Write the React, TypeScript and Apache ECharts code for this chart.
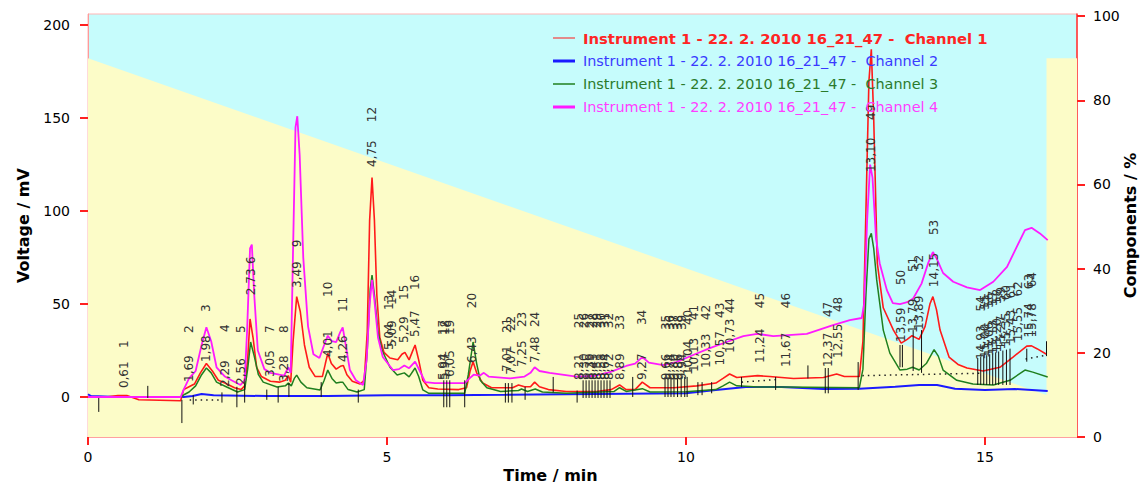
import React, { useEffect, useRef } from "react";
import * as echarts from "echarts";

// ---------- data ----------
const xTicks = [0, 5, 10, 15];
const leftTicks = [0, 50, 100, 150, 200];
const rightTicks = [0, 20, 40, 60, 80, 100];

// gradient composition (% on right axis)
const compTimes = [0, 16.03, 16.03, 16.54];
const compValues = [90, 10, 90, 90];

const channel1: [number, number][] = [
  [0, 0], [0.3, 0], [0.5, 0.8], [0.65, 0.8], [0.85, -1.5], [1.55, -2], [1.6, 4], [1.69, 5.5], [1.78, 7], [1.88, 13], [1.98, 18],
  [2.08, 14], [2.18, 9], [2.29, 7.5], [2.45, 5], [2.56, 4], [2.62, 6], [2.67, 20], [2.71, 42], [2.76, 32], [2.82, 16], [2.9, 11],
  [3.05, 8.5], [3.2, 8], [3.3, 9], [3.35, 11.5], [3.39, 8], [3.43, 30], [3.49, 54], [3.55, 46], [3.62, 28], [3.7, 16], [3.8, 11],
  [3.92, 11], [3.97, 18], [4.01, 23.5], [4.07, 18], [4.15, 15], [4.22, 16.5], [4.27, 17], [4.33, 12], [4.42, 8.5], [4.55, 7],
  [4.62, 9], [4.67, 35], [4.71, 95], [4.75, 118], [4.79, 95], [4.83, 55], [4.88, 32], [4.95, 24], [5.05, 21], [5.18, 20],
  [5.25, 23], [5.3, 24], [5.37, 20], [5.42, 24], [5.47, 28], [5.53, 20], [5.6, 9], [5.7, 5], [5.85, 4.3], [6.2, 4], [6.33, 5],
  [6.39, 14], [6.44, 19], [6.5, 13], [6.6, 7.5], [6.75, 5], [7.1, 5], [7.2, 6.5], [7.3, 5.5], [7.4, 5.5], [7.47, 8], [7.55, 5.5],
  [7.7, 4], [8.0, 3], [8.5, 3], [8.75, 4], [8.89, 6.5], [9.0, 4], [9.15, 4], [9.27, 8], [9.4, 5], [9.8, 5], [10.18, 6], [10.5, 7.5],
  [10.62, 10], [10.73, 12.4], [10.85, 10.5], [11.2, 11.5], [11.4, 11], [11.8, 10], [12.3, 10.5], [12.52, 12.4], [12.65, 11],
  [12.9, 11], [12.96, 30], [13.01, 100], [13.06, 170], [13.1, 187], [13.14, 150], [13.2, 72], [13.3, 48], [13.47, 36], [13.6, 29],
  [13.7, 31], [13.78, 33], [13.9, 31], [14.0, 38], [14.08, 50], [14.13, 54], [14.19, 47], [14.25, 36], [14.4, 21.5], [14.55, 17.5],
  [14.7, 15.6], [14.97, 14], [15.25, 16], [15.47, 21.5], [15.7, 27.4], [15.78, 27.5], [15.87, 26], [16.03, 23],
];

const channel2: [number, number][] = [
  [0, 1.5], [0.05, 0.5], [0.5, 0], [1.6, 0], [1.75, 0.5], [1.9, 1.6], [2.1, 1], [3, 0.5], [4, 0.5], [5, 1], [6, 1], [7, 1.2],
  [8, 1.5], [9, 1.8], [10, 2], [10.5, 3.8], [11, 5.4], [11.6, 5.4], [12.3, 4.3], [12.9, 4.5], [13.5, 5.5], [13.9, 6.5],
  [14.2, 6.5], [14.5, 4.5], [15, 3.8], [15.5, 4.3], [16.05, 3.2],
];

const channel3: [number, number][] = [
  [0, 0], [1.55, 0], [1.62, 1.5], [1.69, 2.7], [1.8, 6], [1.9, 12], [1.98, 15.6], [2.06, 13], [2.15, 8], [2.32, 5.4], [2.5, 2.7],
  [2.62, 4], [2.67, 15], [2.72, 29.6], [2.78, 22], [2.85, 12], [2.93, 8], [3.16, 5.4], [3.3, 6], [3.35, 7.5], [3.4, 6], [3.45, 10],
  [3.49, 11.8], [3.56, 8], [3.66, 5], [3.88, 3.8], [3.95, 9], [4.01, 14.5], [4.08, 10], [4.15, 7.5], [4.22, 8], [4.26, 8],
  [4.35, 4], [4.5, 2.7], [4.62, 4], [4.67, 25], [4.72, 58], [4.75, 65.6], [4.79, 55], [4.85, 35], [4.92, 25], [5.05, 16],
  [5.17, 11.8], [5.29, 13], [5.37, 10.8], [5.47, 15.6], [5.53, 11], [5.6, 3.8], [5.7, 2], [6.3, 2], [6.36, 12], [6.44, 29.6],
  [6.5, 18], [6.56, 9], [6.67, 5], [6.9, 3], [7.2, 3.5], [7.25, 4.3], [7.35, 3], [7.48, 4.3], [7.6, 2.7], [8.0, 2], [8.8, 3],
  [8.89, 5], [9.0, 3], [9.27, 4.5], [9.4, 2.7], [10.0, 2.8], [10.5, 4], [10.62, 6], [10.73, 8], [10.85, 6], [11.2, 5.4],
  [11.6, 5.4], [12.9, 5], [12.96, 15], [13.01, 55], [13.06, 85], [13.1, 88], [13.14, 80], [13.19, 63], [13.3, 36], [13.41, 23.6],
  [13.58, 14.5], [13.7, 15], [13.79, 16], [13.9, 14.5], [14.02, 18], [14.15, 25.5], [14.22, 22], [14.3, 14.5], [14.53, 9],
  [14.8, 7], [15.14, 6.5], [15.42, 9], [15.67, 14.5], [15.8, 13.4], [16.05, 10.8],
];

const channel4: [number, number][] = [
  [0, 0], [1.55, 0], [1.6, 4], [1.69, 10], [1.8, 14], [1.9, 28], [1.98, 37.5], [2.06, 30], [2.15, 16], [2.29, 11], [2.4, 9],
  [2.55, 6.5], [2.62, 9], [2.66, 35], [2.71, 80], [2.74, 82], [2.78, 55], [2.84, 25], [2.95, 15], [3.05, 13], [3.2, 12],
  [3.28, 11.5], [3.35, 16], [3.39, 13], [3.43, 80], [3.47, 145], [3.5, 151], [3.54, 130], [3.6, 75], [3.68, 38], [3.77, 23],
  [3.87, 21], [3.95, 28], [4.01, 33], [4.08, 30], [4.15, 29.5], [4.22, 35], [4.26, 37.5], [4.32, 26], [4.38, 14.5], [4.48, 9],
  [4.6, 6.5], [4.66, 20], [4.71, 50], [4.75, 63], [4.79, 52], [4.85, 32], [4.93, 21.5], [5.1, 14.5], [5.2, 15], [5.29, 17],
  [5.37, 15.5], [5.47, 19], [5.55, 14], [5.64, 8], [5.8, 7.5], [6.3, 7.5], [6.38, 10], [6.45, 12], [6.55, 11.5], [6.62, 13],
  [6.7, 11], [7.06, 10], [7.3, 11], [7.4, 13], [7.47, 16], [7.55, 14], [7.72, 13], [8.17, 11], [8.45, 11.3], [8.73, 13.4],
  [9.0, 16.7], [9.15, 18], [9.27, 21.5], [9.38, 18.5], [9.62, 17.2], [9.84, 18.8], [10.12, 22.6], [10.4, 26.3], [10.68, 29.6],
  [10.96, 32.8], [11.19, 34], [11.46, 32.8], [12.02, 34], [12.46, 38.7], [12.74, 41.4], [12.94, 42.5], [12.98, 50], [13.03, 95],
  [13.08, 125], [13.12, 118], [13.18, 85], [13.24, 72], [13.36, 57.5], [13.46, 50.5], [13.58, 50], [13.7, 51], [13.8, 53],
  [13.94, 61], [14.05, 72], [14.13, 78], [14.2, 74], [14.3, 66.7], [14.47, 62], [14.7, 59], [14.92, 57.5], [15.14, 62],
  [15.37, 70], [15.53, 80.6], [15.67, 89.8], [15.78, 91], [15.92, 88], [16.05, 84.4],
];

// peak annotations: number, retention time, level (mV) of time label foot, level of number label foot
const peakNumbers = Array.from({ length: 64 }, (_, i) => i + 1);
const peakTimes = [
  0.61, 1.69, 1.98, 2.29, 2.56, 2.73, 3.05, 3.28, 3.49, 4.01, 4.26, 4.75, 5.04, 5.09, 5.29, 5.47, 5.94, 5.97, 6.05, 6.43,
  7.01, 7.07, 7.25, 7.48, 8.21, 8.3, 8.39, 8.45, 8.51, 8.58, 8.64, 8.72, 8.89, 9.27, 9.66, 9.74, 9.8, 9.86, 9.94, 10.04,
  10.13, 10.33, 10.57, 10.73, 11.24, 11.67, 12.37, 12.55, 13.1, 13.59, 13.79, 13.89, 14.15, 14.93, 15.0, 15.06, 15.13, 15.2,
  15.27, 15.35, 15.43, 15.55, 15.74, 15.78,
];
const timeLabelLevel = [
  4.8, 8.1, 18.8, 5.4, 6.5, 54.8, 10.8, 8.1, 58.6, 21.5, 18.8, 123.7, 25.3, 26.9, 29, 32.3, 9.1, 9.1, 10.8, 18.3,
  13.4, 12, 16.1, 18.3, 9.1, 9.1, 9.1, 9.1, 9.1, 9.1, 9.1, 9.1, 9.1, 9.1, 9, 9, 9, 9, 9, 11.8,
  13.4, 15.6, 17, 23.7, 18.3, 16.1, 16.1, 21, 121, 29.6, 34.4, 36, 59.1, 20, 21, 22, 23, 24,
  25.5, 27, 28.5, 30, 32, 32,
];
const numberLabelLevel = [
  26.3, 34.4, 45.7, 35, 34.4, 71.5, 34.4, 34.4, 80.6, 53.8, 45.7, 147.8, 46.8, 49.5, 52.2, 57.5, 33.3, 33.3, 33.3, 47.8,
  34.4, 35.5, 37.6, 37.6, 37, 37, 37, 37, 37, 37, 37, 37, 36, 38.7, 36, 36, 36, 36, 36, 38.7,
  41.4, 41.4, 42.5, 45, 47.8, 47.8, 43, 45.7, 149, 60.2, 67.2, 68.3, 87.1, 46, 47, 48, 49, 50,
  51, 52, 53, 54, 58, 59,
];

// integration markers: time, low level, high level (mV)
const markerTimes = [
  0.18, 1.0, 1.57, 1.76, 2.24, 2.49, 2.62, 2.99, 3.18, 3.36, 3.9, 4.52, 5.95, 6.0, 6.05, 6.3, 6.98, 7.03, 7.09, 7.31, 7.78,
  8.18, 8.28, 8.33, 8.38, 8.43, 8.48, 8.53, 8.58, 8.63, 8.68, 8.73, 9.11, 9.65, 9.7, 9.75, 9.8, 9.86, 9.92, 9.98, 10.02,
  10.2, 10.27, 10.43, 10.93, 11.5, 12.04, 12.33, 12.38, 12.88, 13.58, 13.62, 13.8, 13.94, 14.88, 14.93, 14.98, 15.03, 15.08,
  15.13, 15.18, 15.23, 15.3, 15.36, 15.42, 15.7, 16.03,
];
const markerLow = [
  -8, -0.5, -14, -4, -3, -5.5, -3, -1.5, -3, 0, 0, -3, -5.5, -5.5, -5.5, -5.5, -3, -3, -3, -1.5, 2.5,
  -3, -0.5, -0.5, -0.5, -0.5, -0.5, -0.5, -0.5, -0.5, -0.5, -0.5, 0, 0, 0, 0, 0, 0, 0, 0, 0,
  1, 1, 2, 5.4, 3.8, 10, 2, 2, 3.8, 16, 16, 14, 13, 6.5, 6.5, 6.5, 6.5, 6.5,
  6.5, 6.5, 6.5, 6.5, 6.5, 6.5, 19, 22,
];
const markerHigh = [
  -0.5, 6, -1.5, 1, 2.5, 5.5, 7.5, 4, 5.5, 7.5, 8, 4, 9, 9, 9, 9, 7.5, 7.5, 7.5, 5.5, 10.8,
  3.5, 9, 9, 9, 9, 9, 9, 9, 9, 9, 9, 10.8, 10.8, 10.8, 10.8, 10.8, 10.8, 10.8, 10.8, 10.8,
  8, 8, 8, 10.8, 10.8, 17, 15.6, 15.6, 18.8, 28, 28, 36, 36, 21, 21.5, 22, 22.5, 23,
  23.5, 24, 24.5, 25, 25.5, 26, 26, 30,
];

// dotted integration baselines: [t1, v1, t2, v2]
const baselineSegments: [number, number, number, number][] = [
  [1.7, -1.6, 2.25, -1.6],
  [10.93, 8, 11.55, 9.5],
  [12.95, 11.5, 14.95, 12.8],
  [15.68, 20.5, 16.03, 22.5],
];

const seriesNames = [
  "Instrument 1 - 22. 2. 2010 16_21_47 -  Channel 1",
  "Instrument 1 - 22. 2. 2010 16_21_47 -  Channel 2",
  "Instrument 1 - 22. 2. 2010 16_21_47 -  Channel 3",
  "Instrument 1 - 22. 2. 2010 16_21_47 -  Channel 4",
];

// ---------- styles ----------
const FONT = "DejaVu Sans";
const traceColors = ["#ff1a1a", "#1a1aff", "#1f7f1f", "#ff1aff"];
const legendTextColors = ["#ff2424", "#3a3aff", "#2b7a2b", "#ff3cff"];
const legendFonts = [
  `bold 14.8px "${FONT}"`,
  `14.4px "${FONT}"`,
  `14.4px "${FONT}"`,
  `14.4px "${FONT}"`,
];
const traceWidths = [1.6, 2, 1.5, 1.8];
const legendWidths = [1, 3, 1.5, 3];

const fmtTime = (t: number) => t.toFixed(2).replace(".", ",");

export default function App() {
  const ref = useRef<HTMLDivElement>(null);

  useEffect(() => {
    if (!ref.current) return;
    const chart = echarts.init(ref.current, null, { renderer: "svg" });

    const traces = [channel1, channel2, channel3, channel4];

    const legendGraphics: any[] = [];
    seriesNames.forEach((name, i) => {
      const y = 38 + i * 23;
      legendGraphics.push({
        type: "line",
        shape: { x1: 553, y1: y, x2: 575, y2: y },
        style: { stroke: traceColors[i], lineWidth: legendWidths[i] },
        z: 100,
      });
      legendGraphics.push({
        type: "text",
        x: 583,
        y: y,
        style: {
          text: name,
          fill: legendTextColors[i],
          font: legendFonts[i],
          textAlign: "left",
          textVerticalAlign: "middle",
          align: "left",
          verticalAlign: "middle",
        },
        z: 100,
      });
    });

    const option: any = {
      animation: false,
      backgroundColor: "#ffffff",
      textStyle: { fontFamily: FONT },
      grid: {
        left: 88,
        right: 68,
        top: 14,
        bottom: 49,
        containLabel: false,
        outerBoundsMode: "none",
        show: true,
        backgroundColor: "#c6fcfc",
        borderColor: "#ffb4b4",
        borderWidth: 1,
      },
      xAxis: {
        type: "value",
        min: 0,
        max: 16.54,
        name: "Time / min",
        nameLocation: "middle",
        nameGap: 30,
        nameMoveOverlap: false,
        nameTextStyle: { fontSize: 16, fontWeight: "bold", color: "#000", fontFamily: FONT, padding: [0, 64, 0, 0] },
        axisLine: { show: true, onZero: false, lineStyle: { color: "#ffa0a0", width: 1 } },
        axisTick: { show: true, customValues: xTicks, length: 8, lineStyle: { color: "#ff2020", width: 2 } },
        axisLabel: { customValues: xTicks, margin: 13, fontSize: 14, color: "#000", fontFamily: FONT },
        splitLine: { show: false },
      },
      yAxis: [
        {
          type: "value",
          min: -21.5,
          max: 206,
          name: "Voltage / mV",
          nameLocation: "middle",
          nameRotate: 90,
          nameGap: 57,
          nameMoveOverlap: false,
          nameTextStyle: { fontSize: 16, fontWeight: "bold", color: "#000", fontFamily: FONT },
          axisLine: { show: true, onZero: false, lineStyle: { color: "#ff9a9a", width: 1 } },
          axisTick: { show: true, customValues: leftTicks, length: 8, lineStyle: { color: "#ff2020", width: 2 } },
          axisLabel: { customValues: leftTicks, margin: 18, fontSize: 14, color: "#000", fontFamily: FONT },
          splitLine: { show: false },
        },
        {
          type: "value",
          position: "right",
          min: 0,
          max: 100.5,
          name: "Components / %",
          nameLocation: "middle",
          nameRotate: 90,
          nameGap: 45,
          nameMoveOverlap: false,
          nameTextStyle: { fontSize: 16, fontWeight: "bold", color: "#000", fontFamily: FONT },
          axisLine: { show: true, onZero: false, lineStyle: { color: "#ff3030", width: 1.5 } },
          axisTick: { show: true, customValues: rightTicks, length: 8, lineStyle: { color: "#ff2020", width: 2 } },
          axisLabel: { customValues: rightTicks, margin: 16, fontSize: 14, color: "#000", fontFamily: FONT },
          splitLine: { show: false },
        },
      ],
      graphic: legendGraphics,
      series: [
        {
          type: "line",
          name: "composition",
          yAxisIndex: 1,
          data: compTimes.map((t, i) => [t, compValues[i]]),
          showSymbol: false,
          silent: true,
          lineStyle: { width: 0, opacity: 0 },
          areaStyle: { color: "#fcfcc8", opacity: 1 },
          z: 1,
        },
        {
          type: "custom",
          name: "baselines",
          yAxisIndex: 0,
          silent: true,
          data: baselineSegments,
          z: 3,
          renderItem: (_p: any, api: any) => {
            const a = api.coord([api.value(0), api.value(1)]);
            const b = api.coord([api.value(2), api.value(3)]);
            return {
              type: "line",
              shape: { x1: a[0], y1: a[1], x2: b[0], y2: b[1] },
              style: { stroke: "#222", lineWidth: 1.5, lineDash: [1.5, 4] },
            };
          },
        },
        ...traces.map((d, i) => ({
          type: "line",
          name: seriesNames[i],
          yAxisIndex: 0,
          data: d,
          showSymbol: false,
          silent: true,
          lineStyle: { color: traceColors[i], width: traceWidths[i] },
          itemStyle: { color: traceColors[i] },
          z: i === 1 ? 4 : 5,
        })),
        {
          type: "custom",
          name: "markers",
          yAxisIndex: 0,
          silent: true,
          data: markerTimes.map((t, i) => [t, markerLow[i], markerHigh[i]]),
          z: 6,
          renderItem: (_p: any, api: any) => {
            const a = api.coord([api.value(0), api.value(1)]);
            const b = api.coord([api.value(0), api.value(2)]);
            return {
              type: "line",
              shape: { x1: a[0], y1: a[1], x2: b[0], y2: b[1] },
              style: { stroke: "#111", lineWidth: 1 },
            };
          },
        },
        {
          type: "custom",
          name: "peak labels",
          yAxisIndex: 0,
          silent: true,
          clip: false,
          data: peakTimes.map((t, i) => [t, timeLabelLevel[i], numberLabelLevel[i]]),
          z: 7,
          renderItem: (params: any, api: any) => {
            const idx = params.dataIndex;
            const t = api.value(0);
            const a = api.coord([t, api.value(1)]);
            const b = api.coord([t, api.value(2)]);
            const style = (text: string) => ({
              text,
              fill: "#333",
              font: `12px "${FONT}"`,
              textAlign: "left",
              textVerticalAlign: "middle",
              align: "left",
              verticalAlign: "middle",
            });
            return {
              type: "group",
              children: [
                { type: "text", x: a[0], y: a[1], rotation: Math.PI / 2, style: style(fmtTime(peakTimes[idx])) },
                { type: "text", x: b[0], y: b[1], rotation: Math.PI / 2, style: style(String(peakNumbers[idx])) },
              ],
            };
          },
        },
      ],
    };

    chart.setOption(option);
    return () => chart.dispose();
  }, []);

  return <div ref={ref} style={{ position: "fixed", left: 0, top: 0, width: 1145, height: 486 }} />;
}
